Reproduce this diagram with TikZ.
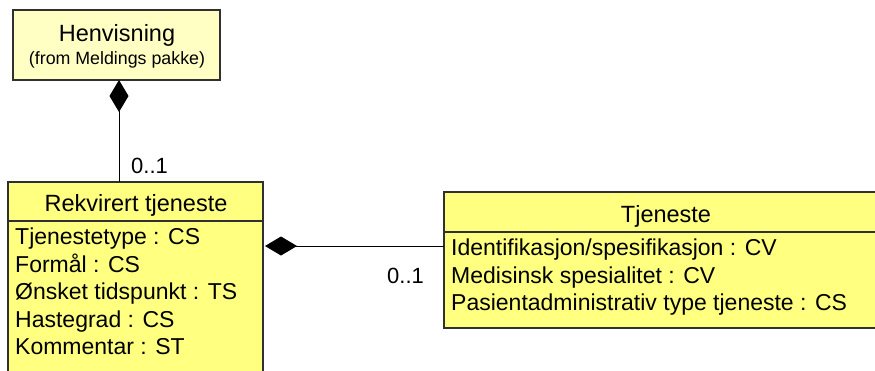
\documentclass[tikz,border=0pt]{standalone}
\usepackage{fontspec}
\setmainfont{Liberation Sans}
\usetikzlibrary{arrows.meta}
\definecolor{paleyellow}{HTML}{FFFFC4}
\definecolor{classyellow}{HTML}{FFFF80}
\definecolor{edgegray}{HTML}{303030}
\tikzset{
  box/.style={draw=edgegray, line width=1.2pt, anchor=north west, inner sep=0pt, outer sep=0pt},
  big/.style={font=\fontsize{23.5pt}{23.5pt}\selectfont, inner sep=0pt, anchor=base},
  attr/.style={font=\fontsize{23pt}{23pt}\selectfont, inner sep=0pt, anchor=base west},
  small/.style={font=\fontsize{17.8pt}{17.8pt}\selectfont, inner sep=0pt, anchor=base},
  mult/.style={font=\fontsize{22pt}{22pt}\selectfont, inner sep=0pt, anchor=base west},
  comp/.style={draw=black, line width=1pt, {Diamond[length=32pt,width=19pt]}-}
}
\begin{document}
\begin{tikzpicture}[x=1pt,y=-1pt]
\clip (0,0) rectangle (875,370);
\fill[white] (0,0) rectangle (875,370);
% Henvisning
\node[box, fill=paleyellow, minimum width=207pt, minimum height=70pt] (henv) at (13,10) {};
\node[big] (henvt) at (117,41) {Henvisning};
\node[small] (henvs) at (117,64) {(from Meldings pakke)};
% Rekvirert tjeneste
\node[box, fill=classyellow, minimum width=255pt, minimum height=220pt] (rek) at (8,182) {};
\node[big] (rekt) at (136,211) {Rekvirert tjeneste};
\coordinate (reksep) at (0,221);
\draw[draw=edgegray, line width=1.2pt] (rek.west |- reksep) -- (rek.east |- reksep);
\node[attr] (r1) at (15,244) {Tjenestetype : CS};
\node[attr] (r2) at (15,272) {Formål : CS};
\node[attr] (r3) at (15,299) {Ønsket tidspunkt : TS};
\node[attr] (r4) at (15,327) {Hastegrad : CS};
\node[attr] (r5) at (15,354) {Kommentar : ST};
% Tjeneste
\node[box, fill=classyellow, minimum width=444pt, minimum height=136pt] (tj) at (444,192) {};
\node[big] (tjt) at (666,222) {Tjeneste};
\coordinate (tjsep) at (0,232);
\draw[draw=edgegray, line width=1.2pt] (tj.west |- tjsep) -- (tj.east |- tjsep);
\node[attr] (t1) at (451,255) {Identifikasjon/spesifikasjon : CV};
\node[attr] (t2) at (451,283) {Medisinsk spesialitet : CV};
\node[attr] (t3) at (451,310) {Pasientadministrativ type tjeneste : CS};
% connectors
\draw[comp] ([xshift=2.5pt]henv.south) -- ([xshift=2.5pt]henv.south |- rek.north);
\coordinate (c2) at (0,246);
\draw[comp, shorten <=2pt] (rek.east |- c2) -- (tj.west |- c2);
\node[mult] (m1) at (131,173) {0..1};
\node[mult] (m2) at (387,283) {0..1};
\end{tikzpicture}
\end{document}
